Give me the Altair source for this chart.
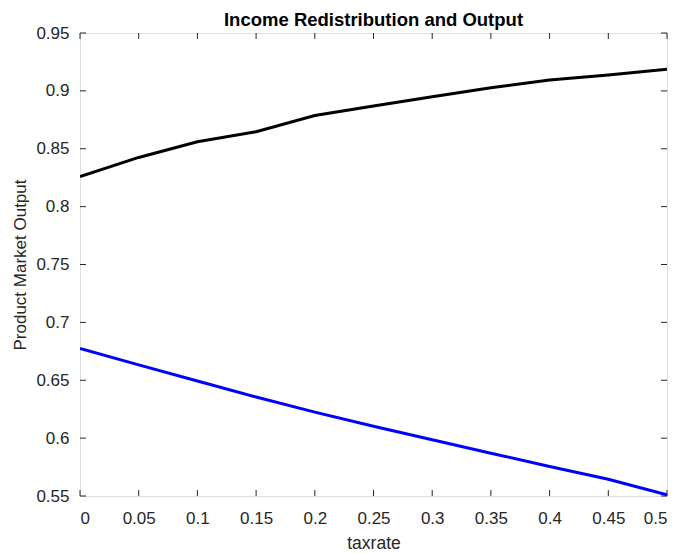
import altair as alt
import pandas as pd

taxrate = [0.0, 0.05, 0.1, 0.15, 0.2, 0.25, 0.3, 0.35, 0.4, 0.45, 0.5]
output_high = [0.826, 0.8425, 0.856, 0.8647, 0.8787, 0.8869, 0.895, 0.9027, 0.9094, 0.9137, 0.9186]
output_low = [0.6775, 0.6633, 0.6494, 0.6355, 0.6225, 0.6103, 0.5986, 0.587, 0.5755, 0.5645, 0.551]

x_ticks = [0.0, 0.05, 0.1, 0.15, 0.2, 0.25, 0.3, 0.35, 0.4, 0.45, 0.5]
y_ticks = [0.55, 0.6, 0.65, 0.7, 0.75, 0.8, 0.85, 0.9, 0.95]

W, H = 587, 463
AX = "#262626"
FONT = "Liberation Sans"

df = pd.DataFrame({
    "taxrate": taxrate * 2,
    "output": output_high + output_low,
    "series": ["high"] * len(taxrate) + ["low"] * len(taxrate),
})
xt = pd.DataFrame({"taxrate": x_ticks})
yt = pd.DataFrame({"output": y_ticks})

xaxis = alt.Axis(values=x_ticks, format="~g", tickSize=0, domain=False, grid=False,
                 labelPadding=14, labelFontSize=17, labelColor=AX, labelFont=FONT,
                 title="taxrate", titleFontSize=17.5, titleFontWeight="normal", titleColor=AX,
                 titleFont=FONT, titleX=W / 2, titleY=47, titleBaseline="middle", titleAlign="center")
yaxis = alt.Axis(values=y_ticks, format="~g", tickSize=0, domain=False, grid=False,
                 labelPadding=11, labelFontSize=17, labelColor=AX, labelFont=FONT,
                 title="Product Market Output", titleFontSize=17, titleFontWeight="normal",
                 titleColor=AX, titleFont=FONT, titleX=-60, titleY=H / 2,
                 titleBaseline="middle", titleAlign="center", titleAngle=-90)

xs = alt.Scale(domain=[0, 0.5], nice=False, zero=False)
ys = alt.Scale(domain=[0.55, 0.95], nice=False, zero=False)
X = alt.X("taxrate:Q", scale=xs, axis=xaxis)
Y = alt.Y("output:Q", scale=ys, axis=yaxis)

lines = alt.Chart(df).mark_line(strokeWidth=3, clip=True).encode(
    x=X, y=Y,
    color=alt.Color("series:N", scale=alt.Scale(domain=["high", "low"], range=["#000000", "#0000ff"]), legend=None),
)

tick_style = dict(color=AX, strokeWidth=1)
bottom_ticks = alt.Chart(xt).mark_rule(**tick_style).encode(x=X, y=alt.value(H), y2=alt.value(H - 6))
top_ticks = alt.Chart(xt).mark_rule(**tick_style).encode(x=X, y=alt.value(0), y2=alt.value(6))
left_ticks = alt.Chart(yt).mark_rule(**tick_style).encode(y=Y, x=alt.value(0), x2=alt.value(6))
right_ticks = alt.Chart(yt).mark_rule(**tick_style).encode(y=Y, x=alt.value(W), x2=alt.value(W - 6))

chart = alt.layer(bottom_ticks, top_ticks, left_ticks, right_ticks, lines).properties(
    width=W, height=H,
    title=alt.TitleParams("Income Redistribution and Output", fontSize=18.5, fontWeight="bold",
                          font=FONT, color="#000000", anchor="middle", offset=-5),
    autosize=alt.AutoSizeParams(type="none"),
    padding={"left": 72, "top": 25, "right": 3, "bottom": 56},
).configure_view(stroke=AX, strokeWidth=1).configure(background="white")

chart.save("out.html", embed_options={"renderer": "svg", "actions": False})
